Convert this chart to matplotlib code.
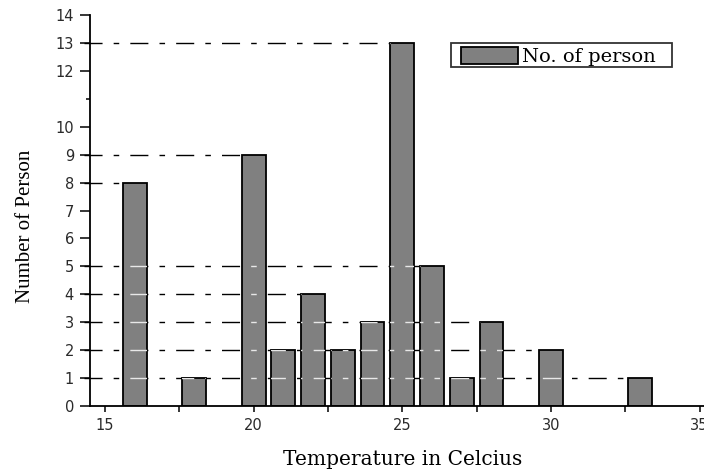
import matplotlib.pyplot as plt
from matplotlib.path import Path
from matplotlib.patches import Rectangle

# data
temps = [16, 18, 20, 21, 22, 23, 24, 25, 26, 27, 28, 30, 33]
persons = [8, 1, 9, 2, 4, 2, 3, 13, 5, 1, 3, 2, 1]
ref_levels = [13, 9, 8, 5, 4, 3, 2, 1]
xtick_vals = [15, 20, 25, 30, 35]
xtick_minor = [17.5, 22.5, 27.5, 32.5]
ytick_vals = [0, 1, 2, 3, 4, 5, 6, 7, 8, 9, 10, 12, 13, 14]
ytick_minor = [11]

bar_w = 0.8

fig = plt.figure(figsize=(7.04, 4.69), dpi=100)
ax = fig.add_axes([90 / 704, 63 / 469, 614 / 704, 391 / 469])

bars = ax.bar(temps, persons, width=bar_w, color='#808080', edgecolor='black',
              linewidth=1.3, zorder=2, label='No. of person')

# bars as one clip region for the light overlay of the guide lines
paths = [p.get_path().transformed(p.get_patch_transform()) for p in bars.patches]
bar_region = Path.make_compound_path(*paths)

x_start = 14.3
dash = (13, 8, 4, 8)
for lvl in ref_levels:
    last = max(t for t, n in zip(temps, persons) if n == lvl)
    x_end = last - bar_w / 2
    ax.plot([x_start, x_end], [lvl, lvl], color='black', lw=1.0,
            dashes=dash, zorder=1, clip_on=False)
    ln, = ax.plot([x_start, x_end], [lvl, lvl], color='#e8e8e8', lw=1.0,
                  dashes=dash, zorder=3)
    ln.set_clip_path(bar_region, ax.transData)

ax.set_xlim(14.496, 35.15)
ax.set_ylim(0, 14)

ax.set_xticks(xtick_vals)
ax.set_xticks(xtick_minor, minor=True)
ax.set_yticks(ytick_vals)
ax.set_yticks(ytick_minor, minor=True)

ax.tick_params(axis='y', which='major', direction='out', length=7, width=1.1,
               labelsize=10.5, labelcolor='#2a2a2a', pad=4.5)
ax.tick_params(axis='y', which='minor', direction='out', length=3, width=1.1)
ax.tick_params(axis='x', which='major', direction='out', length=4.5, width=1.1,
               labelsize=10.5, labelcolor='#2a2a2a', pad=4)
ax.tick_params(axis='x', which='minor', direction='out', length=4, width=1.1)

for s in ['top', 'right']:
    ax.spines[s].set_visible(False)
for s in ['left', 'bottom']:
    ax.spines[s].set_linewidth(1.3)

fig.text(403 / 704, 1 - 459 / 469, 'Temperature in Celcius', family='DejaVu Serif',
         fontsize=14.5, ha='center', va='center')
fig.text(25 / 704, 1 - 226 / 469, 'Number of Person', family='Liberation Serif',
         fontsize=15, ha='center', va='center', rotation=90)

leg = ax.legend(loc='upper left', bbox_to_anchor=(461 / 704, 1 - 47.5 / 469),
                bbox_transform=fig.transFigure, borderaxespad=0, borderpad=0,
                prop={'family': 'DejaVu Serif', 'size': 14}, frameon=False,
                handlelength=2.94, handleheight=0.9, handletextpad=0.2)
# legend box as in the reference
fig.add_artist(Rectangle((451 / 704, 1 - 67 / 469), 221 / 704, 24 / 469,
                         transform=fig.transFigure, facecolor='none',
                         edgecolor='#333333', lw=1.3, zorder=5))

fig.savefig('out.png', dpi=100)
